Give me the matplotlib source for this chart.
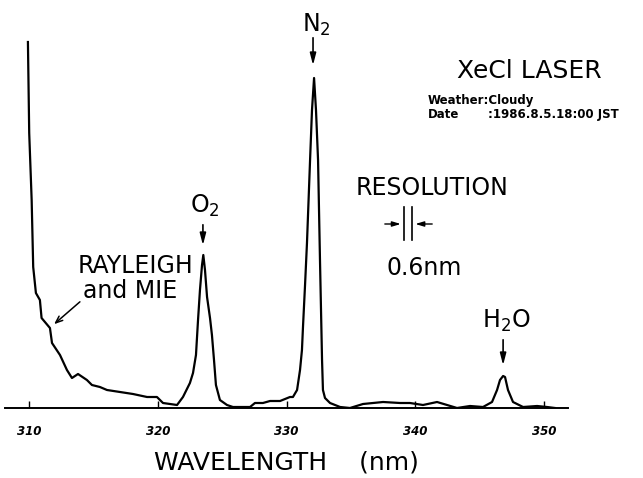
import matplotlib.pyplot as plt

# Raman lidar spectrum (intensity in arbitrary units)
wavelength = [309.92, 310.02, 310.21, 310.33, 310.54, 310.85, 310.98, 311.24, 311.63, 311.79,
              312.41, 312.95, 313.34, 313.81, 314.50, 314.89, 315.51, 316.06, 317.07, 318.08,
              319.17, 319.94, 320.41, 321.50, 321.96, 322.50, 322.74, 322.97, 323.13, 323.28,
              323.44, 323.54, 323.67, 323.83, 324.06, 324.21, 324.37, 324.52, 324.83, 325.38,
              325.84, 327.17, 327.55, 328.17, 328.72, 329.50, 330.27, 330.50, 330.82, 331.05,
              331.20, 331.28, 331.44, 331.59, 331.83, 331.98, 332.14, 332.29, 332.45, 332.60,
              332.76, 332.83, 332.99, 333.38, 334.16, 334.93, 335.94, 337.50, 338.82, 339.59,
              340.60, 341.69, 342.47, 343.24, 344.25, 345.26, 345.96, 346.35, 346.58, 346.82,
              346.97, 347.20, 347.59, 348.37, 349.46, 350.23, 350.85]
intensity = [366, 275, 208, 141, 115, 108, 90, 86, 80, 65,
             53, 38, 30, 34, 28, 23, 21, 18, 16, 14,
             11, 11, 5, 3, 11, 25, 35, 53, 88, 118,
             143, 153, 138, 111, 90, 73, 48, 23, 8, 3,
             1, 1, 5, 5, 7, 7, 11, 11, 18, 38,
             58, 81, 123, 165, 248, 298, 330, 298, 248, 148,
             48, 18, 10, 5, 1, 0, 4, 6, 5, 5,
             3, 6, 3, 0, 2, 1, 6, 18, 28, 32,
             31, 18, 6, 1, 2, 1, 0]

xticks = [310, 320, 330, 340, 350]
resolution_nm = 0.6

fig = plt.figure(figsize=(6.43, 4.78), dpi=100)
ax = fig.add_axes([5 / 643, 70 / 478, 563 / 643, 408 / 478])
ax.plot(wavelength, intensity, color="black", lw=1.6)
ax.set_xlim(308.14, 351.86)
ax.set_ylim(0, 408)

for s in ["top", "left", "right"]:
    ax.spines[s].set_visible(False)
ax.spines["bottom"].set_linewidth(1.4)
ax.set_yticks([])
ax.set_xticks(xticks)
ax.tick_params(axis="x", direction="in", length=5, width=1, pad=12)
for lab in ax.get_xticklabels():
    lab.set_fontsize(8.5)
    lab.set_fontstyle("italic")
    lab.set_fontweight("bold")
ax.set_xlabel("WAVELENGTH    (nm)", fontsize=18, labelpad=9)

# peak labels with arrows
arrow = dict(arrowstyle="-|>,head_length=0.7,head_width=0.18", color="black", lw=1.2)
ax.text(332.29, 376, "N$_2$", fontsize=17, ha="center", va="baseline")
ax.annotate("", xy=(332.06, 340), xytext=(332.06, 373), arrowprops=arrow)
ax.text(323.67, 195, "O$_2$", fontsize=17, ha="center", va="baseline")
ax.annotate("", xy=(323.51, 160), xytext=(323.51, 186), arrowprops=arrow)
ax.text(347.05, 80, "H$_2$O", fontsize=17, ha="center", va="baseline")
ax.annotate("", xy=(346.82, 40), xytext=(346.82, 71), arrowprops=arrow)

ax.text(318.31, 135, "RAYLEIGH", fontsize=17, ha="center", va="baseline")
ax.text(317.84, 110, "and MIE", fontsize=17, ha="center", va="baseline")
ax.annotate("", xy=(311.79, 82), xytext=(314.12, 108),
            arrowprops=dict(arrowstyle="->,head_length=0.5,head_width=0.2", color="black", lw=1.1))

ax.text(348.83, 330, "XeCl LASER", fontsize=18, ha="center", va="baseline")
ax.text(340.99, 304, "Weather:Cloudy", fontsize=8.5, fontweight="bold", va="baseline")
ax.text(340.99, 290, "Date", fontsize=8.5, fontweight="bold", va="baseline")
ax.text(345.65, 290, ":1986.8.5.18:00 JST", fontsize=8.5, fontweight="bold", va="baseline",
        clip_on=False)

# resolution marker
ax.text(341.30, 213, "RESOLUTION", fontsize=17, ha="center", va="baseline")
res_c = 339.44
for xv in [res_c - resolution_nm / 2, res_c + resolution_nm / 2]:
    ax.plot([xv, xv], [168, 201], color="black", lw=1.2)
small = dict(arrowstyle="-|>,head_length=0.5,head_width=0.15", color="black", lw=1.0)
ax.annotate("", xy=(res_c - resolution_nm / 2 - 0.05, 184), xytext=(337.42, 184), arrowprops=small)
ax.annotate("", xy=(res_c + resolution_nm / 2 + 0.05, 184), xytext=(341.53, 184), arrowprops=small)
ax.text(340.68, 133, "0.6nm", fontsize=17, ha="center", va="baseline")

fig.savefig("out.png", dpi=100)
